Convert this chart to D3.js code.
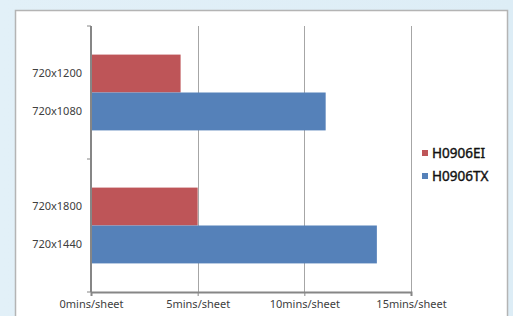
<!DOCTYPE html>
<html>
<head>
<meta charset="utf-8">
<style type="text/css">
html, body{
	padding: 0;
	margin: 0;
}
body{ background: linear-gradient(90deg, #e2f0f8, #ddedf6); }
text{ font-family: "Noto Sans", "DejaVu Sans", sans-serif; }
</style>
<script src="https://cdn.jsdelivr.net/npm/d3@7"></script>
</head>
<body>
<svg width=513 height=316></svg>
<script type="text/javascript">
	// two groups, each with one bar per series; each bar has its own label
	var groups = ['g1', 'g2'];
	var series = ['H0906EI', 'H0906TX'];
	var colors = ['#be5558', '#5581b9'];
	var barLabels = [['720x1200', '720x1080'], ['720x1800', '720x1440']];
	var values = [[4.2, 11.0], [5.0, 13.4]];
	var xTicks = [0, 5, 10, 15];

	var svg = d3.select('svg');

	// white panel
	svg.append('rect')
		.attr('x', 15.5).attr('y', 10.5)
		.attr('width', 492).attr('height', 320)
		.style('fill', 'white')
		.style('stroke', '#b4b4b4')
		.style('stroke-width', 1.5);

	var x = d3.scaleLinear().domain([0, 15]).range([91, 411]);
	var y = d3.scaleBand().domain(groups).range([26, 292]).paddingInner(0.43).paddingOuter(0.215);
	var y1 = d3.scaleBand().domain(series).range([0, y.bandwidth()]);

	// gridlines
	svg.selectAll('line.grid')
		.data(xTicks.slice(1))
		.enter()
		.append('line')
		.attr('class', 'grid')
		.attr('x1', d => Math.round(x(d)) + 0.5).attr('x2', d => Math.round(x(d)) + 0.5)
		.attr('y1', 26).attr('y2', 292)
		.style('stroke', '#a6a6a6');

	// bars
	var rows = [];
	groups.forEach((g, i) => {
		series.forEach((s, j) => {
			rows.push({g: g, s: s, v: values[i][j], label: barLabels[i][j], c: colors[j]});
		});
	});

	svg.selectAll('rect.bar')
		.data(rows)
		.enter()
		.append('rect')
		.attr('class', 'bar')
		.attr('x', x(0))
		.attr('y', d => y(d.g) + y1(d.s))
		.attr('width', d => x(d.v) - x(0))
		.attr('height', y1.bandwidth())
		.style('fill', d => d.c);

	svg.selectAll('text.ylab')
		.data(rows)
		.enter()
		.append('text')
		.attr('class', 'ylab')
		.attr('x', 82)
		.attr('y', d => y(d.g) + y1(d.s) + y1.bandwidth() / 2)
		.attr('dy', '0.35em')
		.style('text-anchor', 'end')
		.style('font-size', '11px')
		.style('fill', '#404040')
		.text(d => d.label);

	// axes
	var xAxis = svg.append('g')
		.attr('transform', 'translate(0,292)')
		.call(d3.axisBottom(x).tickValues(xTicks).tickSize(4).tickFormat(d => d + 'mins/sheet'));
	xAxis.select('.domain').style('stroke', '#868686').style('stroke-width', 2);
	xAxis.selectAll('line').style('stroke', '#868686');
	xAxis.selectAll('text')
		.attr('y', 8)
		.style('font-size', '11px')
		.style('fill', '#404040')
		.style('font-family', '"Noto Sans", sans-serif');

	var yEdges = [26, y.step() + 26, 292];
	svg.append('line')
		.attr('x1', 91).attr('x2', 91)
		.attr('y1', 26).attr('y2', 292)
		.style('stroke', '#868686').style('stroke-width', 2);
	svg.selectAll('line.ytick')
		.data(yEdges)
		.enter()
		.append('line')
		.attr('class', 'ytick')
		.attr('x1', 87).attr('x2', 91)
		.attr('y1', d => d).attr('y2', d => d)
		.style('stroke', '#868686');

	// legend
	var legend = svg.selectAll('g.legend')
		.data(series)
		.enter()
		.append('g')
		.attr('class', 'legend')
		.attr('transform', (d, i) => 'translate(422,' + (153 + i * 23) + ')');
	legend.append('rect')
		.attr('x', 0).attr('y', -3)
		.attr('width', 6).attr('height', 6)
		.style('fill', (d, i) => colors[i]);
	legend.append('text')
		.attr('x', 10)
		.attr('dy', '0.36em')
		.style('font-size', '13.5px')
		.style('fill', '#111')
		.style('stroke', '#111')
		.style('stroke-width', 0.4)
		.text(d => d);
</script>
</body>
</html>
